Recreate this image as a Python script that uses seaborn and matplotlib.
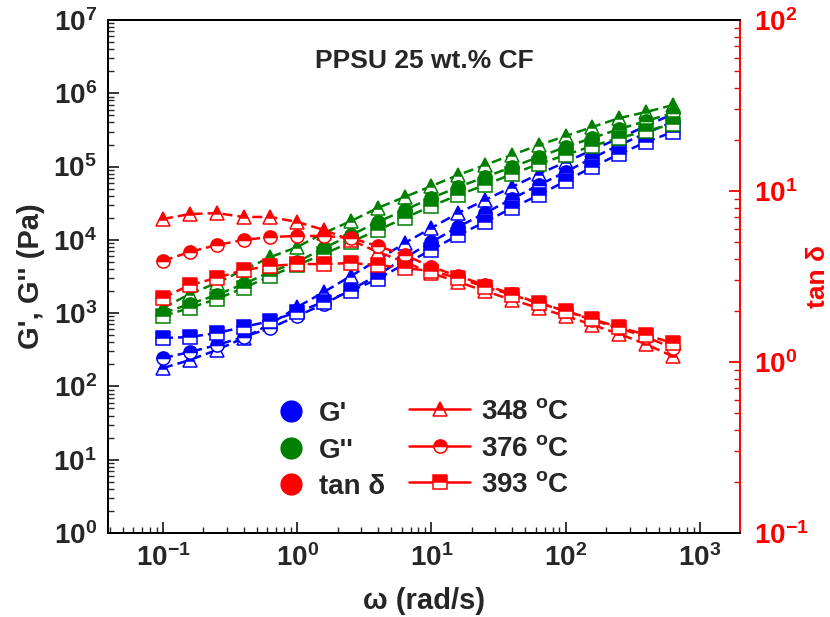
import numpy as np
import pandas as pd
import matplotlib
matplotlib.use("Agg")
import matplotlib.pyplot as plt
from matplotlib.lines import Line2D
from matplotlib.ticker import LogLocator, FuncFormatter, NullFormatter
import seaborn as sns

# Angular frequency sweep (rad/s)
omega = [0.1, 0.158, 0.251, 0.398, 0.631, 1.0, 1.58, 2.51, 3.98, 6.31,
         10.0, 15.8, 25.1, 39.8, 63.1, 100, 158, 251, 398, 628]

temps = ["348", "376", "393"]
markers = {"348": "^", "376": "o", "393": "s"}

# Storage modulus G' (Pa)
g1_348 = [178, 229, 314, 457, 710, 1210, 1940, 3210, 5300, 9040,
          14500, 23200, 34900, 52500, 79100, 115000, 168000, 245000, 357000, 520000]
g1_376 = [244, 294, 367, 472, 627, 913, 1330, 2070, 3310, 5650,
          9330, 15000, 23200, 36100, 56000, 84100, 131000, 196000, 286000, 405000]
g1_393 = [457, 472, 535, 646, 780, 1035, 1420, 2000, 2920, 4680,
          7260, 11600, 17500, 27200, 40800, 63400, 98400, 148000, 216000, 296000]

# Loss modulus G'' (Pa)
g2_348 = [1175, 1820, 2580, 3870, 5820, 7980, 12400, 18000, 27200, 38400,
          54200, 76600, 105000, 144000, 196000, 261000, 346000, 459000, 555000, 690000]
g2_376 = [1000, 1330, 1770, 2500, 3640, 4980, 7730, 11600, 17500, 25500,
          37200, 52500, 71900, 98400, 135000, 185000, 245000, 325000, 418000, 537000]
g2_393 = [913, 1175, 1560, 2200, 3210, 4530, 6400, 9330, 13600, 19800,
          28900, 40800, 56000, 79100, 108000, 144000, 191000, 245000, 305000, 380000]

# Loss tangent tan(delta)
td_348 = [6.86, 7.33, 7.43, 7.05, 7.05, 6.59, 5.92, 5.17, 4.40, 3.85,
          3.31, 2.94, 2.60, 2.31, 2.07, 1.86, 1.65, 1.46, 1.27, 1.08]
td_376 = [3.90, 4.40, 4.83, 5.17, 5.38, 5.46, 5.46, 5.31, 4.77, 4.23,
          3.60, 3.18, 2.82, 2.50, 2.21, 1.99, 1.76, 1.58, 1.40, 1.21]
td_393 = [2.37, 2.82, 3.10, 3.45, 3.64, 3.74, 3.74, 3.79, 3.69, 3.55,
          3.40, 3.10, 2.75, 2.47, 2.21, 1.99, 1.78, 1.60, 1.44, 1.29]

BLUE, GREEN, RED = "#0000ff", "#008000", "#ff0000"

frames = []
for qty, series in (("G'", (g1_348, g1_376, g1_393)),
                    ("G''", (g2_348, g2_376, g2_393)),
                    ("tan", (td_348, td_376, td_393))):
    for t, vals in zip(temps, series):
        frames.append(pd.DataFrame({"omega": omega, "value": vals,
                                    "qty": qty, "temp": t}))
df = pd.concat(frames, ignore_index=True)

sns.set_theme(style="ticks")
plt.rcParams.update({
    "font.family": ["Liberation Sans", "DejaVu Sans"],
    "font.weight": "bold",
    "axes.labelweight": "bold",
    "mathtext.fontset": "custom",
    "mathtext.rm": "Liberation Sans:bold",
    "mathtext.bf": "Liberation Sans:bold",
    "mathtext.it": "Liberation Sans:bold:italic",
})

fig = plt.figure(figsize=(8.3, 6.17), dpi=100)
ax = fig.add_axes([108 / 830, 1 - 533 / 617, (740 - 108) / 830, (533 - 20) / 617])
ax2 = ax.twinx()

MS = 9.5
line_kw = dict(markersize=MS, markeredgewidth=1.1, linestyle=(0, (4, 2)),
               linewidth=1.8, sort=False, estimator=None, legend=False)

for qty, color, target in (("G'", BLUE, ax), ("G''", GREEN, ax), ("tan", RED, ax2)):
    for t in temps:
        sub = df[(df.qty == qty) & (df.temp == t)]
        sns.lineplot(data=sub, x="omega", y="value", ax=target, color=color,
                     marker=markers[t], markeredgecolor=color, **line_kw)

# Half-filled markers: coloured top half, white bottom half
for a in (ax, ax2):
    for ln in a.get_lines():
        c = ln.get_color()
        ln.set_fillstyle("top")
        ln.set_markerfacecolor(c)
        ln.set_markerfacecoloralt("white")
        ln.set_markeredgecolor(c)

for a in (ax, ax2):
    a.set_xscale("log")
    a.set_yscale("log")
ax.set_xlim(10 ** -1.41, 10 ** 3.30)
ax.set_ylim(1, 1e7)
ax2.set_ylim(0.1, 100)

fmt = FuncFormatter(lambda v, p: r"$\mathbf{10^{%d}}$" % int(round(np.log10(v))))
for a in (ax, ax2):
    a.xaxis.set_major_locator(LogLocator(base=10, numticks=20))
    a.xaxis.set_minor_locator(LogLocator(base=10, subs=np.arange(2, 10), numticks=20))
    a.yaxis.set_major_locator(LogLocator(base=10, numticks=20))
    a.yaxis.set_minor_locator(LogLocator(base=10, subs=np.arange(2, 10), numticks=20))
    a.xaxis.set_major_formatter(fmt)
    a.yaxis.set_major_formatter(fmt)
    a.yaxis.set_minor_formatter(NullFormatter())
    a.xaxis.set_minor_formatter(NullFormatter())

ax.tick_params(axis="both", which="major", direction="in", length=8, width=1.3,
               labelsize=20, top=False, right=False, pad=8)
ax.tick_params(axis="both", which="minor", direction="in", length=4, width=1.0,
               top=False, right=False)
ax2.tick_params(axis="y", which="major", direction="in", length=8, width=1.3,
                labelsize=20, colors=RED, pad=10)
ax2.tick_params(axis="y", which="minor", direction="in", length=4, width=1.0,
                colors=RED)

for a in (ax, ax2):
    for s in a.spines.values():
        s.set_linewidth(1.4)
        s.set_color("black")
ax2.spines["right"].set_color(RED)
ax.spines["right"].set_visible(False)

ax.set_xlabel("ω (rad/s)", fontsize=21, fontweight="bold", labelpad=11)
ax.set_ylabel("G', G'' (Pa)", fontsize=21, fontweight="bold", labelpad=6)
ax2.set_xlabel("")
ax2.set_ylabel("tan δ", fontsize=19, fontweight="bold", color=RED)
ax2.yaxis.set_label_coords((806 - 108) / 632, 0.5)

ax.text(0.5, 0.92, "PPSU 25 wt.% CF", transform=ax.transAxes, ha="center",
        va="center", fontsize=19, fontweight="bold")

# Colour key for the quantities
qty_handles = [Line2D([], [], marker="o", linestyle="", color=c, markersize=15)
               for c in (BLUE, GREEN, RED)]
leg1 = ax2.legend(qty_handles, ["G'", "G''", "tan δ"], loc="upper left",
                  bbox_to_anchor=(277 / 830, 1 - 401 / 617),
                  bbox_transform=fig.transFigure, frameon=False, fontsize=20,
                  handlelength=1.0, handletextpad=0.5, labelspacing=0.38,
                  borderpad=0, borderaxespad=0)
ax2.add_artist(leg1)

# Marker key for the temperatures
temp_handles = [Line2D([], [], color=RED, marker=markers[t], fillstyle="top",
                       markerfacecolor=RED, markerfacecoloralt="white",
                       markeredgecolor=RED, markersize=MS, markeredgewidth=1.1,
                       linewidth=1.8)
                for t in temps]
temp_labels = [r"%s $^{\mathbf{o}}$C" % t for t in temps]
leg2 = ax2.legend(temp_handles, temp_labels, loc="upper left",
                  bbox_to_anchor=(409 / 830, 1 - 399 / 617),
                  bbox_transform=fig.transFigure, frameon=False, fontsize=20,
                  handlelength=2.2, handletextpad=0.4, labelspacing=0.38,
                  borderpad=0, borderaxespad=0)

fig.savefig("out.png", dpi=100)
